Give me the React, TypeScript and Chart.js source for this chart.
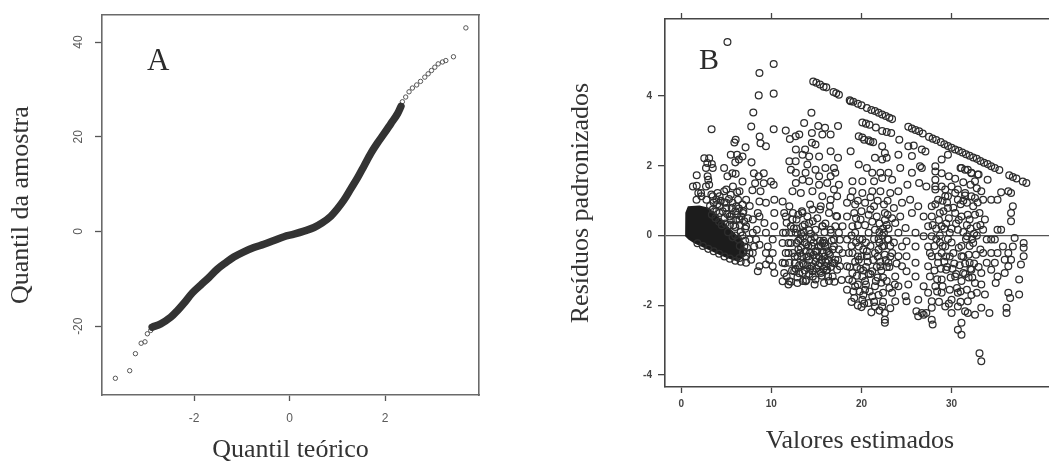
import React, { useEffect, useRef } from "react";
import { Chart, registerables } from "chart.js";
Chart.register(...registerables);

// ---------------- Panel A (Q-Q plot) ----------------
const aXTicks = [-2, 0, 2];
const aYTicks = [-20, 0, 20, 40];
// dense part of the Q-Q cloud (theoretical quantile, sample quantile)
const qqBandX = [-2.88, -2.7, -2.49, -2.35, -2.21, -2.04, -1.86, -1.69, -1.52, -1.34, -1.17, -0.96, -0.75, -0.54, -0.33, -0.12, 0.09, 0.3, 0.51, 0.68, 0.86, 1.0, 1.14, 1.28, 1.42, 1.56, 1.7, 1.84, 1.98, 2.12, 2.26, 2.33];
const qqBandY = [-20.2, -19.5, -18.1, -16.7, -15.1, -13.0, -11.3, -9.7, -8.0, -6.6, -5.4, -4.3, -3.4, -2.7, -1.9, -1.1, -0.56, 0.07, 0.84, 1.8, 3.2, 4.8, 6.7, 9.0, 11.3, 13.9, 16.5, 18.7, 20.7, 22.8, 24.9, 26.4];
const qqTailLow = [[-3.65, -31.0], [-3.35, -29.4], [-3.23, -25.8], [-3.11, -23.6], [-3.03, -23.3], [-2.98, -21.6], [-2.91, -20.9]];
const qqTailHigh = [[2.36, 27.4], [2.43, 28.4], [2.5, 29.5], [2.57, 30.3], [2.66, 30.95], [2.74, 31.7], [2.83, 32.6], [2.9, 33.3], [2.97, 34.0], [3.04, 34.7], [3.11, 35.4], [3.2, 35.8], [3.27, 36.1], [3.43, 36.9], [3.69, 43.0]];

// ---------------- Panel B (residuals vs fitted) ----------------
const bXTicks = [0, 10, 20, 30];
const bYTicks = [-4, -2, 0, 2, 4];

const bTopRow = [[14.65, 4.42], [15.0, 4.38], [15.4, 4.33], [15.8, 4.27], [16.1, 4.25], [16.9, 4.12], [17.2, 4.08], [17.5, 4.04], [18.7, 3.88], [19.1, 3.84], [19.6, 3.78], [20.0, 3.74], [20.6, 3.66], [21.1, 3.6], [21.5, 3.57], [21.9, 3.52], [22.3, 3.47], [22.7, 3.43], [23.1, 3.38], [23.4, 3.34], [25.2, 3.12], [25.6, 3.07], [26.0, 3.03], [26.4, 2.99], [26.8, 2.93], [27.5, 2.83], [27.9, 2.78], [28.3, 2.74], [28.8, 2.68], [29.2, 2.62], [29.6, 2.57], [30.0, 2.52], [30.4, 2.47], [30.8, 2.43], [31.2, 2.38], [31.6, 2.33], [32.0, 2.29], [32.4, 2.24], [32.8, 2.2], [33.2, 2.14], [33.6, 2.09], [34.0, 2.05], [34.4, 1.99], [34.8, 1.94], [35.3, 1.88], [36.4, 1.73], [36.8, 1.68], [37.2, 1.64], [37.9, 1.55], [38.3, 1.51]];
const bRow2 = [[20.1, 3.24], [20.5, 3.21], [20.9, 3.18], [21.6, 3.1], [22.3, 3.0], [22.8, 2.97], [23.3, 2.94], [24.2, 2.75], [20.1, 2.81], [20.8, 2.73], [21.3, 2.68], [25.8, 2.58], [27.1, 2.41], [26.7, 1.94], [28.2, 1.84], [28.9, 1.79], [29.7, 1.7], [30.4, 1.63], [31.3, 1.53], [32.1, 1.46], [32.8, 1.36], [33.3, 1.27], [31.0, 1.94], [31.5, 1.89], [32.2, 1.79], [33.0, 1.75], [28.2, 1.41], [29.3, 1.32], [30.4, 1.22], [31.5, 1.15], [32.6, 1.08]];

const bCluster1 = [[3.37, 3.05], [5.13, 5.55], [8.68, 4.66], [10.26, 4.92], [8.6, 4.02], [10.26, 4.07], [8.0, 3.53], [7.77, 3.13], [10.26, 3.05], [8.7, 2.84], [8.8, 2.65], [9.4, 2.56], [7.14, 2.53], [6.04, 2.75], [5.9, 2.67], [5.5, 2.32], [6.2, 2.32], [6.8, 2.27], [6.4, 2.18], [6.0, 2.1], [7.8, 2.1], [2.56, 2.22], [3.1, 2.22], [2.9, 2.08], [3.4, 2.05], [2.75, 1.94], [3.5, 1.94], [4.76, 1.94], [1.72, 1.73], [2.93, 1.7], [3.0, 1.6], [5.68, 1.79], [6.04, 1.77], [5.13, 1.7], [6.8, 1.55], [1.72, 1.43], [2.75, 1.41], [3.1, 1.46], [4.03, 1.22], [4.76, 1.27], [5.5, 1.17], [6.2, 1.24], [8.06, 1.79], [8.6, 1.7], [9.16, 1.79], [8.2, 1.5], [9.16, 1.5], [9.96, 1.55], [10.26, 1.46], [8.8, 1.27], [7.9, 1.3], [2.2, 1.22], [3.5, 1.13], [4.26, 1.13], [5.0, 1.32], [5.74, 1.41], [6.47, 1.27], [7.2, 1.03], [5.0, 0.94], [6.1, 0.84], [6.84, 0.65], [4.26, 0.65], [5.37, 0.55], [6.47, 0.46], [7.2, 0.27], [7.94, 0.08], [7.57, -0.11], [8.68, -0.26], [7.94, -0.5], [7.2, -0.78], [8.68, -0.88], [9.4, -0.83], [8.5, -1.02], [9.78, -0.69], [10.15, -0.5], [10.15, -0.88], [10.33, -1.07], [9.4, -0.5], [8.68, 0.55], [8.5, 0.65], [8.68, 0.98], [9.4, 0.94], [10.33, 1.03], [10.33, 0.65], [10.33, 0.27], [9.4, 0.08], [10.15, -0.11], [8.38, 0.17], [9.23, 0.36], [7.94, 0.46], [9.6, -0.31], [1.7, 1.03], [2.24, 1.13], [2.8, 1.03], [3.35, 1.18], [3.9, 1.03], [1.3, 1.41], [1.9, 1.22], [3.5, 0.75], [4.26, 0.84], [5.0, 0.79], [5.7, 0.94], [6.3, 1.03], [6.8, 0.89], [6.65, 0.55], [7.0, 0.41], [7.0, -0.31], [6.84, -0.5], [6.47, -0.64], [7.57, -0.5], [7.76, -0.69], [8.1, -0.31], [8.3, -0.11], [4.5, 0.3], [5.2, 0.1], [5.8, 0.3], [6.2, 0.6], [3.8, 0.5], [4.8, 0.5], [5.5, 0.45], [6.0, 0.0], [6.5, -0.3], [6.6, 0.1]];
const bCore1 = [[3.2, 0.85], [3.6, 0.95], [4.0, 0.9], [4.4, 1.0], [4.8, 0.95], [5.3, 1.05], [5.6, 0.8], [6.0, 0.7], [6.4, 0.78], [6.9, 0.7], [3.4, 0.6], [3.9, 0.7], [4.6, 0.7], [5.1, 0.62], [5.6, 0.6], [6.1, 0.45], [6.5, 0.3], [7.1, 0.2], [4.2, 0.4], [4.9, 0.35], [5.4, 0.3], [6.0, 0.25], [6.8, 0.0], [7.1, -0.15], [6.3, -0.1], [5.7, -0.05], [6.9, -0.45], [7.2, -0.6], [6.6, -0.75], [6.0, -0.72], [5.4, -0.66], [4.8, -0.6], [4.2, -0.52], [3.6, -0.45], [3.0, -0.38], [2.4, -0.3], [1.8, -0.22], [7.4, 0.5], [7.6, 0.85], [7.3, -0.35]];

const bCluster2 = [[11.6, 3.01], [12.06, 2.77], [12.7, 2.85], [13.64, 3.23], [14.45, 3.52], [14.5, 2.94], [13.1, 2.9], [13.75, 2.47], [12.72, 2.47], [14.5, 2.66], [14.9, 2.61], [15.66, 2.9], [15.96, 3.09], [15.2, 3.14], [17.4, 3.14], [16.58, 2.9], [16.58, 2.42], [17.4, 2.23], [15.3, 2.27], [14.2, 2.27], [13.46, 2.32], [12.0, 2.13], [12.7, 2.13], [14.0, 2.04], [14.9, 1.89], [16.0, 1.94], [16.95, 1.94], [15.3, 1.7], [16.58, 1.7], [17.1, 1.8], [12.17, 1.89], [12.72, 1.8], [13.8, 1.8], [13.46, 1.6], [12.72, 1.51], [14.2, 1.56], [15.3, 1.46], [16.2, 1.51], [16.95, 1.32], [17.5, 1.46], [12.35, 1.27], [13.27, 1.22], [14.56, 1.27], [15.66, 1.13], [16.58, 1.03], [17.3, 1.13], [11.25, 0.98], [12.0, 0.84], [11.43, 0.65], [11.6, 0.55], [12.35, 0.46], [13.46, 0.65], [14.56, 0.75], [15.48, 0.84], [16.4, 0.65], [17.3, 0.55], [17.1, 0.27], [17.5, 0.08], [16.95, -0.11], [17.5, -0.4], [17.1, -0.69], [17.3, -0.98], [16.8, -1.17], [15.85, -1.36], [14.9, -1.26], [13.8, -1.31], [12.9, -1.36], [12.0, -1.31], [11.43, -1.07], [11.25, -0.78], [11.6, -0.5], [11.25, -0.21], [11.6, 0.08], [12.17, 0.27], [12.7, 0.08], [13.46, 0.27], [14.2, 0.36], [14.9, 0.17], [15.66, 0.27], [16.58, 0.17], [12.17, -0.21], [12.0, -0.78], [12.54, -1.02], [13.46, -1.07], [14.56, -1.02], [15.5, -1.07], [16.2, -0.98], [16.8, -0.78], [16.4, -0.5], [16.95, -0.31], [15.66, -0.21], [11.9, -1.4], [11.25, -1.31], [11.7, 0.37], [12.4, 0.65], [11.3, 0.08], [11.9, -0.21], [11.5, -0.79], [11.7, -1.17], [12.2, -1.32], [13.1, -1.08], [13.9, -1.27], [14.6, -1.17], [15.4, -1.03], [16.3, -1.17], [17.0, -1.32], [17.8, -1.27], [17.6, -0.88], [17.9, -0.5], [17.6, -0.12], [17.9, 0.27], [17.2, 0.56], [16.5, 0.85], [15.4, 0.75], [14.3, 0.89], [13.4, 0.7], [12.8, 0.46], [13.7, 0.32], [14.6, 0.41], [15.7, 0.27], [16.6, 0.08], [15.9, -0.21], [15.2, -0.31], [14.4, -0.12], [13.5, -0.02], [12.8, -0.21], [13.2, -0.5], [14.1, -0.6], [15.0, -0.64], [15.9, -0.6], [16.8, -0.4], [17.0, -0.79], [16.1, -0.88], [15.4, -0.79], [14.5, -0.88], [13.6, -0.84], [12.6, -0.79], [12.4, -0.5], [12.2, 0.08]];
const bCore2 = [[12.8, 0.2], [13.2, -0.1], [13.6, 0.1], [13.9, -0.25], [14.2, 0.15], [14.5, -0.3], [14.8, -0.05], [15.1, -0.45], [15.4, -0.15], [15.7, -0.5], [16.0, -0.3], [16.3, -0.7], [13.0, -0.4], [13.4, -0.6], [13.8, -0.45], [14.2, -0.7], [14.7, -0.55], [15.2, -0.85], [15.6, -0.7], [16.1, -1.0], [16.5, -0.55], [13.1, -0.85], [13.7, -1.0], [14.3, -0.95], [14.9, -0.75], [15.8, -0.95], [12.6, -0.6], [12.9, -1.2], [14.0, 0.55], [15.1, 0.5], [16.0, 0.35], [13.0, 0.6], [12.5, 0.2], [16.7, -0.15], [17.4, -0.7], [11.9, -0.5], [12.3, -1.0], [14.8, -1.4], [16.4, -1.3], [13.5, -1.3]];
const bCore2b = [[13.0, -0.15], [13.3, -0.35], [13.5, -0.8], [13.9, -0.6], [14.1, -0.3], [14.3, -0.5], [14.4, 0.05], [14.7, -0.2], [14.9, -0.45], [15.0, -0.95], [15.3, -0.6], [15.5, -0.3], [15.8, -0.15], [16.2, -0.45], [16.0, -0.75], [13.7, -0.2], [14.0, -0.85], [12.9, -0.6], [13.3, 0.05], [15.6, -1.15], [14.2, -1.1], [16.6, -0.9], [12.7, -0.95], [15.9, 0.1]];

const bCluster3 = [[18.8, 3.85], [18.8, 2.42], [19.7, 2.85], [20.3, 2.75], [21.0, 2.7], [22.3, 2.56], [22.6, 2.37], [21.5, 2.23], [22.3, 2.18], [22.8, 2.23], [19.7, 2.04], [20.6, 1.94], [21.2, 1.8], [22.1, 1.8], [23.0, 1.8], [24.1, 2.32], [24.3, 1.94], [19.0, 1.56], [20.1, 1.56], [21.4, 1.56], [22.3, 1.65], [23.4, 1.6], [19.0, 1.27], [20.1, 1.22], [21.2, 1.27], [22.1, 1.27], [23.2, 1.22], [24.1, 1.27], [18.4, 0.94], [19.3, 0.89], [20.4, 0.94], [21.4, 0.84], [22.5, 0.89], [23.6, 0.79], [24.5, 0.94], [18.4, 0.55], [19.0, 0.27], [18.4, -0.11], [18.6, -0.5], [18.4, -0.88], [18.6, -1.26], [18.4, -1.55], [19.2, -1.79], [20.1, -1.84], [20.8, -1.93], [21.5, -2.03], [22.3, -2.03], [22.6, -2.22], [22.6, -2.41], [22.6, -2.5], [23.2, -2.08], [23.75, -1.88], [23.4, -1.64], [24.1, -1.45], [23.75, -1.17], [24.5, -0.88], [24.1, -0.59], [24.5, -0.31], [24.1, 0.08], [23.75, 0.36], [24.3, 0.55], [23.4, 0.5], [22.6, 0.65], [21.7, 0.55], [20.8, 0.6], [19.9, 0.46], [19.3, 0.08], [20.1, -0.11], [20.8, 0.08], [21.5, 0.17], [22.5, 0.08], [23.0, -0.11], [22.3, -0.31], [21.5, -0.5], [20.6, -0.59], [19.7, -0.69], [19.0, -1.07], [20.1, -1.17], [21.2, -1.02], [22.1, -0.88], [23.0, -0.78], [23.4, -0.5], [19.3, -1.45], [20.4, -1.55], [21.5, -1.45], [22.4, -1.64], [21.2, -1.74], [19.7, -0.31], [19.2, 0.65], [18.9, -0.3], [19.5, -0.9], [20.5, -0.9], [21.8, -1.2], [22.8, -1.3], [23.2, -0.3], [21.9, -0.1], [20.4, 0.3], [22.8, 0.3], [19.6, 1.0], [22.9, 1.0], [21.0, 1.1], [18.9, -1.9], [19.6, -2.0]];
const bCore3 = [[19.0, -0.5], [19.4, -0.2], [19.6, -0.6], [19.9, -0.95], [20.2, -0.4], [20.4, -1.3], [20.7, -0.75], [21.0, -1.1], [21.0, -0.3], [21.3, -0.7], [21.6, -1.3], [21.8, -0.6], [22.0, -0.2], [22.2, -1.0], [22.4, 0.2], [22.6, -0.55], [22.8, -0.9], [23.0, 0.2], [23.2, -0.6], [23.1, -1.5], [22.2, -1.35], [21.9, -1.7], [20.9, -1.6], [20.2, -1.7], [19.6, -1.4], [19.0, -1.3], [18.7, -0.9], [18.9, 0.0], [19.6, 0.3], [20.5, -0.2], [21.2, 0.4], [22.0, 0.35], [22.9, 0.6], [19.4, 0.5], [21.0, 0.75], [23.6, -0.2], [23.9, -0.8], [23.7, -1.4], [20.0, -2.05], [21.1, -2.2], [22.0, -2.15], [18.8, 1.1], [21.8, 1.0], [20.0, 0.7], [22.4, -1.9], [19.8, -0.1]];
const bCore3b = [[19.3, -0.75], [19.5, -1.15], [19.8, -1.6], [20.0, -0.6], [20.2, -1.0], [20.5, -1.4], [20.8, -1.1], [20.6, -0.45], [19.1, -1.6], [21.9, -0.4], [22.1, -0.75], [22.3, 0.0], [22.5, -0.3], [22.7, -0.7], [22.9, -0.1], [23.1, -0.9], [22.0, 0.1], [22.6, 0.45], [21.7, -0.9], [22.4, -1.2], [21.4, -0.1], [20.3, -1.95], [21.4, -1.9]];

const bCluster4 = [[25.2, 2.56], [25.6, 2.28], [26.7, 2.47], [26.5, 1.99], [25.6, 1.8], [25.1, 1.46], [26.4, 1.51], [27.2, 1.41], [25.4, 1.03], [26.3, 0.84], [26.9, 0.55], [25.6, 0.65], [24.9, 0.22], [26.0, 0.08], [26.9, -0.02], [25.0, -0.16], [26.0, -0.31], [25.0, -0.59], [26.0, -0.78], [25.0, -1.02], [26.0, -1.17], [25.2, -1.4], [24.9, -1.74], [25.0, -1.88], [26.3, -1.84], [26.1, -2.17], [26.3, -2.31], [26.9, -2.27], [27.8, -2.41], [27.9, -2.55], [27.8, -1.88], [27.8, -2.07], [27.4, -1.64], [26.9, -1.45], [27.8, 0.84], [28.5, 1.03], [29.6, 1.13], [30.7, 1.03], [31.7, 0.94], [32.4, 0.84], [33.1, 0.65], [33.7, 0.46], [33.5, 0.17], [33.9, -0.11], [33.5, -0.5], [33.9, -0.78], [33.3, -1.07], [32.6, -1.36], [31.7, -1.55], [30.7, -1.64], [29.8, -1.55], [28.9, -1.64], [28.2, -1.45], [27.6, -1.17], [27.4, -0.88], [27.8, -0.59], [27.4, -0.31], [27.8, -0.02], [27.4, 0.27], [27.8, 0.55], [28.7, 0.65], [29.6, 0.79], [30.4, 0.65], [31.1, 0.55], [32.0, 0.46], [32.8, 0.27], [28.9, 0.27], [29.8, 0.08], [30.7, 0.17], [31.7, -0.02], [32.4, -0.21], [29.3, -0.31], [30.2, -0.5], [31.1, -0.59], [32.0, -0.78], [28.5, -0.78], [29.4, -0.98], [30.4, -1.17], [31.3, -1.07], [32.2, -0.98], [28.9, -1.26], [30.0, -1.84], [29.3, -2.03], [30.7, -2.03], [31.5, -2.17], [30.0, -2.22], [27.2, -2.22], [26.7, -2.22], [34.4, -0.5], [34.8, -0.78], [34.4, -0.98], [35.1, -0.5], [34.8, -0.11], [35.7, -0.31], [35.9, -0.69], [35.5, 0.17], [35.1, 1.03], [33.5, 1.03], [28.9, 2.18], [29.6, 2.32], [28.2, 1.99], [31.1, 1.94], [31.8, 1.89], [32.2, 1.8], [32.9, 1.75], [30.0, 1.41], [30.7, 1.32], [31.5, 1.22], [32.2, 1.13], [28.9, 1.41], [28.2, 1.32], [29.3, 1.13], [28.2, 1.6], [35.5, 1.24], [36.6, 1.22], [36.8, 0.84], [36.6, 0.65], [36.6, 0.41], [37.0, -0.07], [36.8, -0.31], [38.0, -0.21], [38.0, -0.35], [38.0, -0.59], [37.7, -0.83], [37.5, -1.26], [37.5, -1.69], [36.3, -1.64], [36.5, -1.79], [36.1, -2.07], [36.1, -2.22], [36.3, -0.88], [35.9, -1.07], [36.6, -0.69], [36.3, -0.5], [35.1, -1.17], [34.9, -1.36], [35.1, 0.17], [34.4, -0.11], [34.4, 1.03], [34.0, 1.6], [32.6, 1.56], [36.3, 1.27], [34.2, -2.22], [33.3, -2.07], [32.6, -2.27], [31.8, -2.22], [31.8, -1.88], [32.8, -1.64], [33.7, -1.69], [30.7, -2.7], [31.1, -2.84], [31.1, -2.5], [33.1, -3.37], [33.3, -3.6]];
const bCore4 = [[27.9, 0.3], [28.3, -0.1], [28.6, 0.45], [28.9, -0.5], [29.2, 0.2], [29.5, -0.9], [29.7, 0.5], [30.0, -0.2], [30.3, -0.8], [30.5, 0.35], [30.8, -0.35], [31.1, -1.3], [31.3, 0.1], [31.5, -0.8], [31.8, 0.6], [32.0, -0.3], [32.3, -1.2], [32.5, 0.05], [32.7, -0.55], [33.0, -0.9], [28.1, -1.0], [28.4, -1.25], [28.7, -0.2], [29.0, -1.45], [29.4, -0.6], [29.9, -1.2], [30.2, 0.8], [30.6, -1.5], [31.0, 0.9], [31.9, -1.2], [32.6, 0.6], [33.2, -0.4], [28.2, 0.9], [27.6, -0.5], [31.6, -0.1], [30.9, -0.85], [29.1, 0.7], [32.1, 0.2], [33.3, -1.4], [28.6, -1.9], [29.7, -1.95], [31.0, -1.9], [32.2, -1.7], [29.0, 1.0], [31.3, 1.0], [32.9, 0.95]];
const bCore4b = [[28.1, -0.3], [28.3, 0.2], [28.5, -0.6], [28.7, 0.0], [28.8, -0.95], [29.0, -0.3], [29.2, -0.75], [29.4, 0.35], [29.6, -0.1], [29.8, -0.6], [30.0, 0.2], [31.1, -0.3], [31.3, -0.6], [31.5, -1.1], [31.7, 0.3], [31.9, -0.55], [32.1, -0.95], [32.3, -0.1], [32.5, -0.8], [32.8, 0.0], [30.5, -1.1], [30.1, -0.95], [31.0, -1.6], [28.4, -1.6], [33.2, 0.3], [29.5, 0.95], [30.8, 0.45]];

// outline of the solid ink blob at the smallest fitted values
const bBlobSolid = [[0.6, 0.0], [0.62, 0.65], [0.85, 0.8], [2.0, 0.82], [3.0, 0.76], [4.0, 0.5], [5.0, 0.25], [6.0, 0.0], [6.8, -0.2], [6.9, -0.55], [6.3, -0.7], [5.5, -0.64], [4.5, -0.54], [3.5, -0.42], [2.5, -0.3], [1.5, -0.18], [0.9, -0.08]];

const W = 1049;
const H = 471;
const SERIF = '"Liberation Serif", "DejaVu Serif", serif';
const SANS = '"Liberation Sans", Arial, sans-serif';

const toXY = (arr: number[][]) => arr.map(([x, y]) => ({ x, y }));
const fixTicks = (vals: number[]) => (s: any) => {
  s.ticks = vals.map((v) => ({ value: v }));
};

const polyPlugin = {
  id: "polys",
  beforeDatasetsDraw(chart: any, _a: any, opts: any) {
    const items = (opts && opts.items) || [];
    const { ctx, chartArea, scales } = chart;
    ctx.save();
    ctx.beginPath();
    ctx.rect(chartArea.left, chartArea.top, chartArea.right - chartArea.left, chartArea.bottom - chartArea.top);
    ctx.clip();
    for (const it of items) {
      ctx.beginPath();
      it.pts.forEach(([x, y]: number[], i: number) => {
        const px = scales.x.getPixelForValue(x);
        const py = scales.y.getPixelForValue(y);
        if (i === 0) ctx.moveTo(px, py);
        else ctx.lineTo(px, py);
      });
      ctx.closePath();
      ctx.fillStyle = it.color;
      ctx.fill();
      ctx.lineWidth = 3;
      ctx.strokeStyle = it.color;
      ctx.stroke();
    }
    ctx.restore();
  },
};

const letterPlugin = {
  id: "panelLetter",
  afterDraw(chart: any, _a: any, opts: any) {
    if (!opts || !opts.text) return;
    const { ctx } = chart;
    ctx.save();
    ctx.font = `${opts.size}px ${SERIF}`;
    ctx.fillStyle = "#2b2b2b";
    ctx.textBaseline = "alphabetic";
    ctx.textAlign = "left";
    ctx.fillText(opts.text, opts.x, opts.y);
    ctx.restore();
  },
};

function makeA(canvas: HTMLCanvasElement) {
  const borderA = { display: true, color: "#6a6a6a", width: 1.6 };
  return new Chart(canvas, {
    type: "scatter",
    data: {
      datasets: [
        {
          data: qqBandX.map((x, i) => ({ x, y: qqBandY[i] })),
          showLine: true,
          borderColor: "#333",
          borderWidth: 7.5,
          borderCapStyle: "round",
          pointRadius: 0,
          cubicInterpolationMode: "monotone",
        } as any,
        {
          data: toXY([...qqTailLow, ...qqTailHigh]),
          showLine: false,
          pointRadius: 2.2,
          pointBorderWidth: 1,
          pointBorderColor: "#555",
          pointBackgroundColor: "rgba(0,0,0,0)",
        },
      ],
    },
    options: {
      responsive: false,
      animation: false,
      devicePixelRatio: 1,
      layout: { padding: 0 },
      plugins: {
        legend: { display: false },
        tooltip: { enabled: false },
        panelLetter: { text: "A", x: 147, y: 70, size: 31 },
      } as any,
      scales: {
        x: {
          type: "linear",
          position: "bottom",
          min: -3.93,
          max: 3.965,
          afterBuildTicks: fixTicks(aXTicks),
          afterFit: (s: any) => { s.height = H - 395; },
          ticks: { color: "#5a5a5a", font: { family: SANS, size: 12 }, padding: 10, maxRotation: 0, autoSkip: false },
          grid: { drawOnChartArea: false, tickLength: 6, tickColor: "#555", tickWidth: 1.3 },
          border: borderA,
          title: { display: true, text: "Quantil teórico", color: "#333", font: { family: SERIF, size: 26 }, padding: { top: 0, bottom: 5 } },
        },
        xTop: {
          type: "linear",
          position: "top",
          display: true,
          min: 0,
          max: 1,
          afterFit: (s: any) => { s.height = 14; },
          ticks: { display: false },
          grid: { display: false },
          border: borderA,
        },
        y: {
          type: "linear",
          position: "left",
          min: -34.53,
          max: 45.68,
          afterBuildTicks: fixTicks(aYTicks),
          afterFit: (s: any) => { s.width = 102; },
          ticks: { color: "#5a5a5a", font: { family: SANS, size: 12 }, padding: 8, minRotation: 90, maxRotation: 90, crossAlign: "center", autoSkip: false },
          grid: { drawOnChartArea: false, tickLength: 7, tickColor: "#555", tickWidth: 1.3 },
          border: borderA,
          title: { display: true, text: "Quantil da amostra", color: "#333", font: { family: SERIF, size: 26 }, padding: { top: 6, bottom: 0 } },
        },
        yRight: {
          type: "linear",
          position: "right",
          display: true,
          min: 0,
          max: 1,
          afterFit: (s: any) => { s.width = 500 - 479; },
          ticks: { display: false },
          grid: { display: false },
          border: borderA,
        },
      },
    } as any,
    plugins: [letterPlugin],
  });
}

function makeB(canvas: HTMLCanvasElement) {
  const borderB = { display: true, color: "#454545", width: 1.6 };
  const circle = (arr: number[][]) => ({
    data: toXY(arr),
    showLine: false,
    pointRadius: 3.4,
    pointBorderWidth: 1.25,
    pointBorderColor: "#2e2e2e",
    pointBackgroundColor: "rgba(0,0,0,0)",
  });
  return new Chart(canvas, {
    type: "scatter",
    data: {
      datasets: [
        circle(bCluster1), circle(bCore1),
        circle(bCluster2), circle(bCore2), circle(bCore2b),
        circle(bCluster3), circle(bCore3), circle(bCore3b),
        circle(bCluster4), circle(bCore4), circle(bCore4b),
        circle(bTopRow), circle(bRow2),
      ],
    },
    options: {
      responsive: false,
      animation: false,
      devicePixelRatio: 1,
      layout: { padding: { right: 4 } },
      plugins: {
        legend: { display: false },
        tooltip: { enabled: false },
        panelLetter: { text: "B", x: 699 - 520, y: 69, size: 30 },
        polys: { items: [{ pts: bBlobSolid, color: "#1c1c1c" }] },
      } as any,
      scales: {
        x: {
          type: "linear",
          position: "bottom",
          min: -1.8,
          max: 41.45,
          afterBuildTicks: fixTicks(bXTicks),
          afterFit: (s: any) => { s.height = H - 387; },
          ticks: { color: "#444", font: { family: SANS, size: 10, weight: "bold" }, padding: 5, maxRotation: 0, autoSkip: false },
          grid: { drawOnChartArea: false, tickLength: 6, tickColor: "#444", tickWidth: 1.3 },
          border: borderB,
          title: { display: true, text: "Valores estimados", color: "#333", font: { family: SERIF, size: 26 }, padding: { top: 0, bottom: 14 } },
        },
        xTop: {
          type: "linear",
          position: "top",
          display: true,
          min: -1.8,
          max: 41.45,
          afterBuildTicks: fixTicks(bXTicks),
          afterFit: (s: any) => { s.height = 19; },
          ticks: { display: false },
          grid: { drawOnChartArea: false, tickLength: 6, tickColor: "#444", tickWidth: 1.3 },
          border: borderB,
        },
        y: {
          type: "linear",
          position: "left",
          min: -4.34,
          max: 6.21,
          afterBuildTicks: fixTicks(bYTicks),
          afterFit: (s: any) => { s.width = 665 - 520; },
          ticks: { color: "#444", font: { family: SANS, size: 10, weight: "bold" }, padding: 6, autoSkip: false },
          grid: {
            drawOnChartArea: true,
            color: (c: any) => (c.tick && c.tick.value === 0 ? "#555" : "rgba(0,0,0,0)"),
            lineWidth: 1.3,
            tickLength: 7,
            tickColor: "#444",
            tickWidth: 1.3,
          },
          border: borderB,
          title: { display: true, text: "Resíduos padronizados", color: "#333", font: { family: SERIF, size: 26 }, padding: { top: 46, bottom: 0 } },
        },
      },
    } as any,
    plugins: [polyPlugin, letterPlugin],
  });
}

export default function App() {
  const refA = useRef<HTMLCanvasElement>(null);
  const refB = useRef<HTMLCanvasElement>(null);
  useEffect(() => {
    const a = refA.current ? makeA(refA.current) : null;
    const b = refB.current ? makeB(refB.current) : null;
    return () => {
      if (a) a.destroy();
      if (b) b.destroy();
    };
  }, []);
  return (
    <div style={{ position: "fixed", left: 0, top: 0, width: W, height: H, overflow: "hidden", background: "#fff" }}>
      <canvas ref={refA} width={500} height={H} style={{ position: "absolute", left: 0, top: 0, width: 500, height: H }} />
      <canvas ref={refB} width={540} height={H} style={{ position: "absolute", left: 520, top: 0, width: 540, height: H }} />
    </div>
  );
}
